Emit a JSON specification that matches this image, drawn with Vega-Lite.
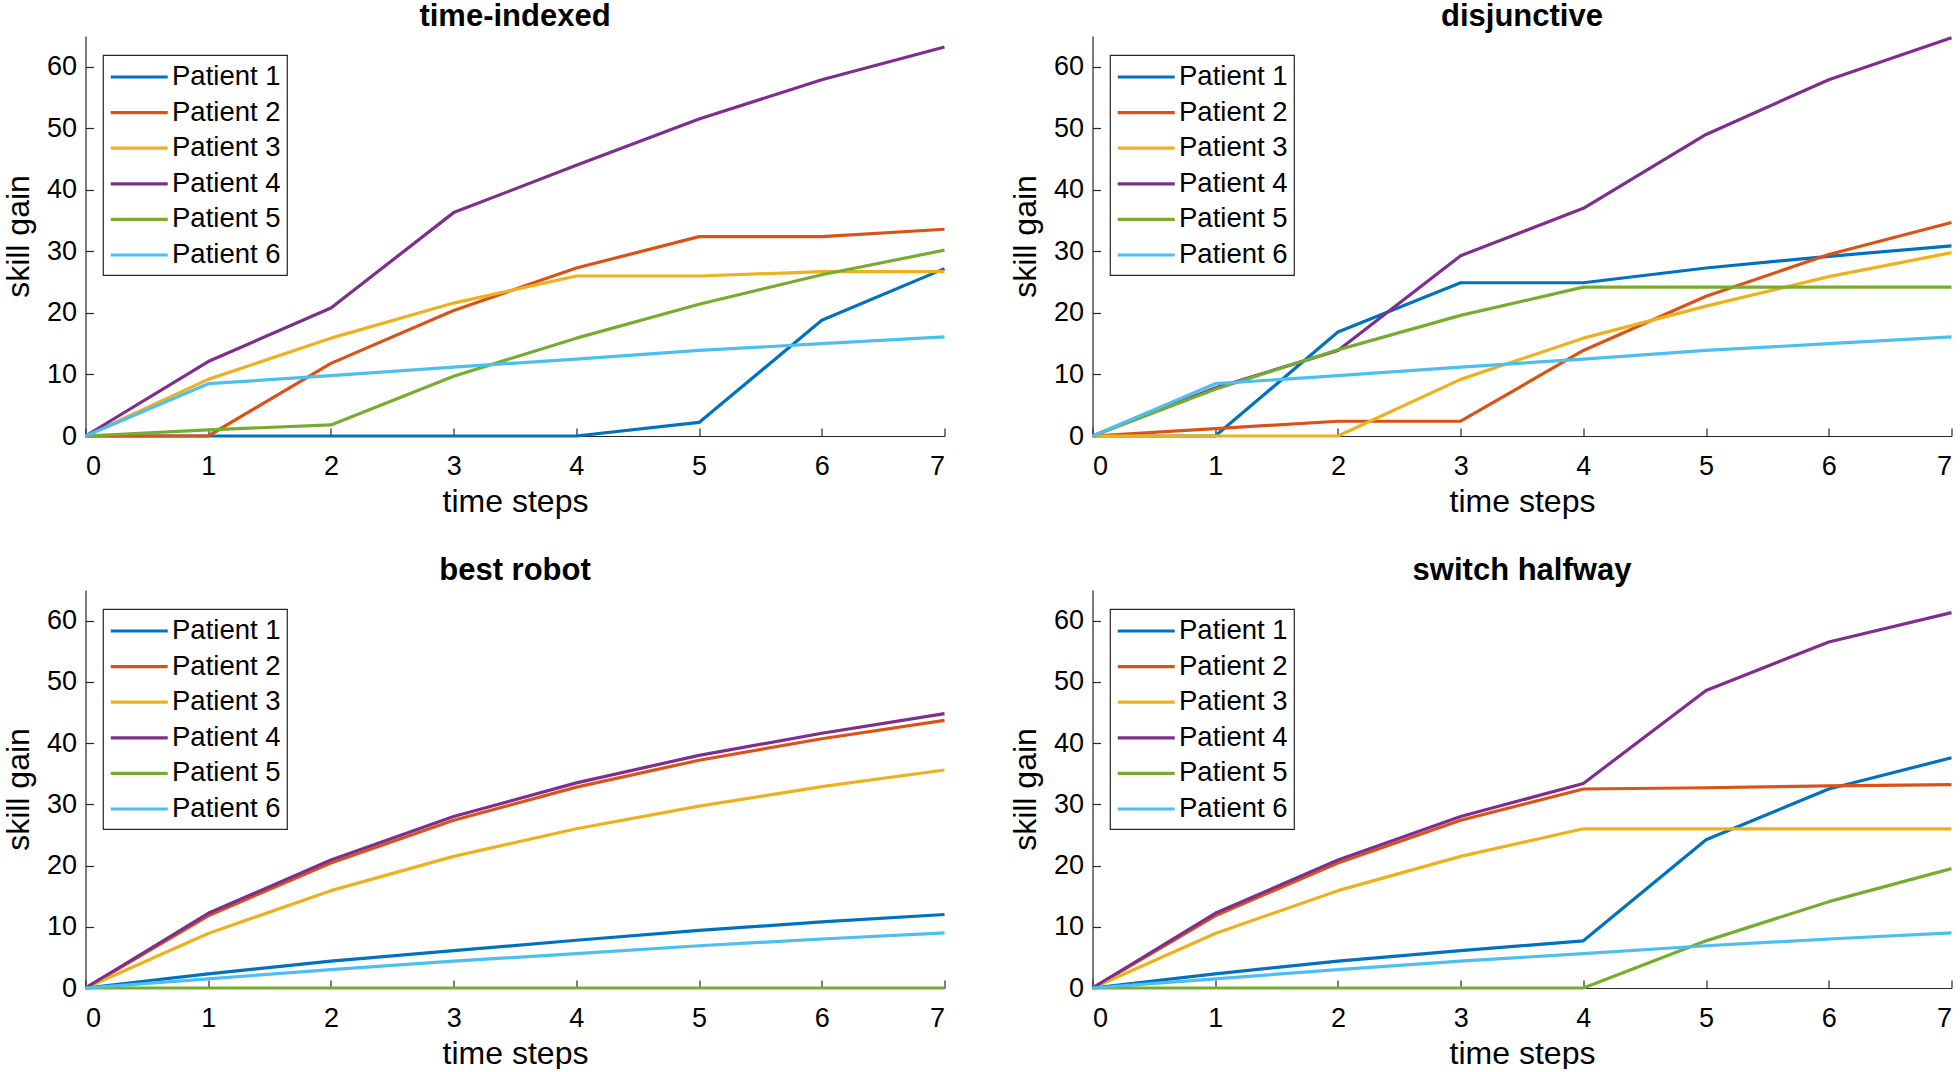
{
  "$schema": "https://vega.github.io/schema/vega-lite/v6.json",
  "background": "white",
  "padding": {"left": 2.5, "top": 0, "right": 0, "bottom": 0},
  "autosize": {"type": "pad"},
  "bounds": "flush",
  "columns": 2,
  "spacing": {"row": 154, "column": 148},
  "datasets": {
    "ti": [
      {"p": "Patient 1", "t": 0, "v": 0}, {"p": "Patient 1", "t": 1, "v": 0}, {"p": "Patient 1", "t": 2, "v": 0}, {"p": "Patient 1", "t": 3, "v": 0}, {"p": "Patient 1", "t": 4, "v": 0}, {"p": "Patient 1", "t": 5, "v": 2.2}, {"p": "Patient 1", "t": 6, "v": 18.8}, {"p": "Patient 1", "t": 7, "v": 27.2},
      {"p": "Patient 2", "t": 0, "v": 0}, {"p": "Patient 2", "t": 1, "v": 0}, {"p": "Patient 2", "t": 2, "v": 11.8}, {"p": "Patient 2", "t": 3, "v": 20.4}, {"p": "Patient 2", "t": 4, "v": 27.3}, {"p": "Patient 2", "t": 5, "v": 32.4}, {"p": "Patient 2", "t": 6, "v": 32.4}, {"p": "Patient 2", "t": 7, "v": 33.6},
      {"p": "Patient 3", "t": 0, "v": 0}, {"p": "Patient 3", "t": 1, "v": 9.2}, {"p": "Patient 3", "t": 2, "v": 15.9}, {"p": "Patient 3", "t": 3, "v": 21.6}, {"p": "Patient 3", "t": 4, "v": 26.0}, {"p": "Patient 3", "t": 5, "v": 26.0}, {"p": "Patient 3", "t": 6, "v": 26.7}, {"p": "Patient 3", "t": 7, "v": 26.7},
      {"p": "Patient 4", "t": 0, "v": 0}, {"p": "Patient 4", "t": 1, "v": 12.1}, {"p": "Patient 4", "t": 2, "v": 20.8}, {"p": "Patient 4", "t": 3, "v": 36.3}, {"p": "Patient 4", "t": 4, "v": 44.0}, {"p": "Patient 4", "t": 5, "v": 51.5}, {"p": "Patient 4", "t": 6, "v": 57.9}, {"p": "Patient 4", "t": 7, "v": 63.2},
      {"p": "Patient 5", "t": 0, "v": 0}, {"p": "Patient 5", "t": 1, "v": 1.0}, {"p": "Patient 5", "t": 2, "v": 1.8}, {"p": "Patient 5", "t": 3, "v": 9.7}, {"p": "Patient 5", "t": 4, "v": 15.9}, {"p": "Patient 5", "t": 5, "v": 21.4}, {"p": "Patient 5", "t": 6, "v": 26.2}, {"p": "Patient 5", "t": 7, "v": 30.2},
      {"p": "Patient 6", "t": 0, "v": 0}, {"p": "Patient 6", "t": 1, "v": 8.5}, {"p": "Patient 6", "t": 2, "v": 9.8}, {"p": "Patient 6", "t": 3, "v": 11.2}, {"p": "Patient 6", "t": 4, "v": 12.5}, {"p": "Patient 6", "t": 5, "v": 13.9}, {"p": "Patient 6", "t": 6, "v": 15.0}, {"p": "Patient 6", "t": 7, "v": 16.1}
    ],
    "dj": [
      {"p": "Patient 1", "t": 0, "v": 0}, {"p": "Patient 1", "t": 1, "v": 0}, {"p": "Patient 1", "t": 2, "v": 16.9}, {"p": "Patient 1", "t": 3, "v": 24.9}, {"p": "Patient 1", "t": 4, "v": 24.9}, {"p": "Patient 1", "t": 5, "v": 27.3}, {"p": "Patient 1", "t": 6, "v": 29.2}, {"p": "Patient 1", "t": 7, "v": 30.9},
      {"p": "Patient 2", "t": 0, "v": 0}, {"p": "Patient 2", "t": 1, "v": 1.2}, {"p": "Patient 2", "t": 2, "v": 2.4}, {"p": "Patient 2", "t": 3, "v": 2.4}, {"p": "Patient 2", "t": 4, "v": 13.9}, {"p": "Patient 2", "t": 5, "v": 22.7}, {"p": "Patient 2", "t": 6, "v": 29.5}, {"p": "Patient 2", "t": 7, "v": 34.7},
      {"p": "Patient 3", "t": 0, "v": 0}, {"p": "Patient 3", "t": 1, "v": 0}, {"p": "Patient 3", "t": 2, "v": 0}, {"p": "Patient 3", "t": 3, "v": 9.2}, {"p": "Patient 3", "t": 4, "v": 15.9}, {"p": "Patient 3", "t": 5, "v": 21.1}, {"p": "Patient 3", "t": 6, "v": 25.9}, {"p": "Patient 3", "t": 7, "v": 29.8},
      {"p": "Patient 4", "t": 0, "v": 0}, {"p": "Patient 4", "t": 1, "v": 7.8}, {"p": "Patient 4", "t": 2, "v": 13.9}, {"p": "Patient 4", "t": 3, "v": 29.3}, {"p": "Patient 4", "t": 4, "v": 37.0}, {"p": "Patient 4", "t": 5, "v": 49.0}, {"p": "Patient 4", "t": 6, "v": 57.9}, {"p": "Patient 4", "t": 7, "v": 64.7},
      {"p": "Patient 5", "t": 0, "v": 0}, {"p": "Patient 5", "t": 1, "v": 7.6}, {"p": "Patient 5", "t": 2, "v": 14.0}, {"p": "Patient 5", "t": 3, "v": 19.6}, {"p": "Patient 5", "t": 4, "v": 24.2}, {"p": "Patient 5", "t": 5, "v": 24.2}, {"p": "Patient 5", "t": 6, "v": 24.2}, {"p": "Patient 5", "t": 7, "v": 24.2},
      {"p": "Patient 6", "t": 0, "v": 0}, {"p": "Patient 6", "t": 1, "v": 8.5}, {"p": "Patient 6", "t": 2, "v": 9.8}, {"p": "Patient 6", "t": 3, "v": 11.2}, {"p": "Patient 6", "t": 4, "v": 12.5}, {"p": "Patient 6", "t": 5, "v": 13.9}, {"p": "Patient 6", "t": 6, "v": 15.0}, {"p": "Patient 6", "t": 7, "v": 16.1}
    ],
    "br": [
      {"p": "Patient 1", "t": 0, "v": 0}, {"p": "Patient 1", "t": 1, "v": 2.3}, {"p": "Patient 1", "t": 2, "v": 4.4}, {"p": "Patient 1", "t": 3, "v": 6.1}, {"p": "Patient 1", "t": 4, "v": 7.8}, {"p": "Patient 1", "t": 5, "v": 9.4}, {"p": "Patient 1", "t": 6, "v": 10.8}, {"p": "Patient 1", "t": 7, "v": 12.0},
      {"p": "Patient 2", "t": 0, "v": 0}, {"p": "Patient 2", "t": 1, "v": 11.8}, {"p": "Patient 2", "t": 2, "v": 20.4}, {"p": "Patient 2", "t": 3, "v": 27.4}, {"p": "Patient 2", "t": 4, "v": 32.8}, {"p": "Patient 2", "t": 5, "v": 37.2}, {"p": "Patient 2", "t": 6, "v": 40.7}, {"p": "Patient 2", "t": 7, "v": 43.7},
      {"p": "Patient 3", "t": 0, "v": 0}, {"p": "Patient 3", "t": 1, "v": 8.9}, {"p": "Patient 3", "t": 2, "v": 15.9}, {"p": "Patient 3", "t": 3, "v": 21.5}, {"p": "Patient 3", "t": 4, "v": 26.0}, {"p": "Patient 3", "t": 5, "v": 29.7}, {"p": "Patient 3", "t": 6, "v": 32.9}, {"p": "Patient 3", "t": 7, "v": 35.6},
      {"p": "Patient 4", "t": 0, "v": 0}, {"p": "Patient 4", "t": 1, "v": 12.2}, {"p": "Patient 4", "t": 2, "v": 20.9}, {"p": "Patient 4", "t": 3, "v": 28.0}, {"p": "Patient 4", "t": 4, "v": 33.5}, {"p": "Patient 4", "t": 5, "v": 38.0}, {"p": "Patient 4", "t": 6, "v": 41.6}, {"p": "Patient 4", "t": 7, "v": 44.8},
      {"p": "Patient 5", "t": 0, "v": 0}, {"p": "Patient 5", "t": 1, "v": 0}, {"p": "Patient 5", "t": 2, "v": 0}, {"p": "Patient 5", "t": 3, "v": 0}, {"p": "Patient 5", "t": 4, "v": 0}, {"p": "Patient 5", "t": 5, "v": 0}, {"p": "Patient 5", "t": 6, "v": 0}, {"p": "Patient 5", "t": 7, "v": 0},
      {"p": "Patient 6", "t": 0, "v": 0}, {"p": "Patient 6", "t": 1, "v": 1.5}, {"p": "Patient 6", "t": 2, "v": 3.0}, {"p": "Patient 6", "t": 3, "v": 4.4}, {"p": "Patient 6", "t": 4, "v": 5.6}, {"p": "Patient 6", "t": 5, "v": 6.9}, {"p": "Patient 6", "t": 6, "v": 8.0}, {"p": "Patient 6", "t": 7, "v": 9.0}
    ],
    "sh": [
      {"p": "Patient 1", "t": 0, "v": 0}, {"p": "Patient 1", "t": 1, "v": 2.3}, {"p": "Patient 1", "t": 2, "v": 4.4}, {"p": "Patient 1", "t": 3, "v": 6.1}, {"p": "Patient 1", "t": 4, "v": 7.7}, {"p": "Patient 1", "t": 5, "v": 24.2}, {"p": "Patient 1", "t": 6, "v": 32.5}, {"p": "Patient 1", "t": 7, "v": 37.6},
      {"p": "Patient 2", "t": 0, "v": 0}, {"p": "Patient 2", "t": 1, "v": 11.8}, {"p": "Patient 2", "t": 2, "v": 20.4}, {"p": "Patient 2", "t": 3, "v": 27.4}, {"p": "Patient 2", "t": 4, "v": 32.5}, {"p": "Patient 2", "t": 5, "v": 32.7}, {"p": "Patient 2", "t": 6, "v": 33.0}, {"p": "Patient 2", "t": 7, "v": 33.2},
      {"p": "Patient 3", "t": 0, "v": 0}, {"p": "Patient 3", "t": 1, "v": 8.9}, {"p": "Patient 3", "t": 2, "v": 15.9}, {"p": "Patient 3", "t": 3, "v": 21.5}, {"p": "Patient 3", "t": 4, "v": 26.0}, {"p": "Patient 3", "t": 5, "v": 26.0}, {"p": "Patient 3", "t": 6, "v": 26.0}, {"p": "Patient 3", "t": 7, "v": 26.0},
      {"p": "Patient 4", "t": 0, "v": 0}, {"p": "Patient 4", "t": 1, "v": 12.2}, {"p": "Patient 4", "t": 2, "v": 20.9}, {"p": "Patient 4", "t": 3, "v": 28.0}, {"p": "Patient 4", "t": 4, "v": 33.4}, {"p": "Patient 4", "t": 5, "v": 48.6}, {"p": "Patient 4", "t": 6, "v": 56.5}, {"p": "Patient 4", "t": 7, "v": 61.3},
      {"p": "Patient 5", "t": 0, "v": 0}, {"p": "Patient 5", "t": 1, "v": 0}, {"p": "Patient 5", "t": 2, "v": 0}, {"p": "Patient 5", "t": 3, "v": 0}, {"p": "Patient 5", "t": 4, "v": 0}, {"p": "Patient 5", "t": 5, "v": 7.7}, {"p": "Patient 5", "t": 6, "v": 14.1}, {"p": "Patient 5", "t": 7, "v": 19.5},
      {"p": "Patient 6", "t": 0, "v": 0}, {"p": "Patient 6", "t": 1, "v": 1.5}, {"p": "Patient 6", "t": 2, "v": 3.0}, {"p": "Patient 6", "t": 3, "v": 4.4}, {"p": "Patient 6", "t": 4, "v": 5.6}, {"p": "Patient 6", "t": 5, "v": 6.9}, {"p": "Patient 6", "t": 6, "v": 8.0}, {"p": "Patient 6", "t": 7, "v": 9.0}
    ]
  },
  "concat": [
    {
      "title": "time-indexed",
      "width": 859, "height": 400,
      "data": {"name": "ti"},
      "mark": {"type": "line", "strokeWidth": 3.2, "strokeJoin": "round"},
      "encoding": {
        "x": {"field": "t", "type": "quantitative", "scale": {"domain": [0, 7], "nice": false, "zero": false}, "axis": {"title": "time steps", "values": [0, 1, 2, 3, 4, 5, 6, 7]}},
        "y": {"field": "v", "type": "quantitative", "scale": {"domain": [0, 65], "nice": false}, "axis": {"title": "skill gain", "values": [0, 10, 20, 30, 40, 50, 60]}},
        "color": {"field": "p", "type": "nominal", "scale": {"domain": ["Patient 1", "Patient 2", "Patient 3", "Patient 4", "Patient 5", "Patient 6"], "range": ["#0072BD", "#D95319", "#EDB120", "#7E2F8E", "#77AC30", "#4DBEEE"]}, "legend": {"title": null, "labelExpr": "datum.label + ' '"}}
      }
    },
    {
      "title": "disjunctive",
      "width": 859, "height": 400,
      "data": {"name": "dj"},
      "mark": {"type": "line", "strokeWidth": 3.2, "strokeJoin": "round"},
      "encoding": {
        "x": {"field": "t", "type": "quantitative", "scale": {"domain": [0, 7], "nice": false, "zero": false}, "axis": {"title": "time steps", "values": [0, 1, 2, 3, 4, 5, 6, 7]}},
        "y": {"field": "v", "type": "quantitative", "scale": {"domain": [0, 65], "nice": false}, "axis": {"title": "skill gain", "values": [0, 10, 20, 30, 40, 50, 60]}},
        "color": {"field": "p", "type": "nominal", "scale": {"domain": ["Patient 1", "Patient 2", "Patient 3", "Patient 4", "Patient 5", "Patient 6"], "range": ["#0072BD", "#D95319", "#EDB120", "#7E2F8E", "#77AC30", "#4DBEEE"]}, "legend": {"title": null, "labelExpr": "datum.label + ' '"}}
      }
    },
    {
      "title": "best robot",
      "width": 859, "height": 398,
      "data": {"name": "br"},
      "mark": {"type": "line", "strokeWidth": 3.2, "strokeJoin": "round"},
      "encoding": {
        "x": {"field": "t", "type": "quantitative", "scale": {"domain": [0, 7], "nice": false, "zero": false}, "axis": {"title": "time steps", "values": [0, 1, 2, 3, 4, 5, 6, 7]}},
        "y": {"field": "v", "type": "quantitative", "scale": {"domain": [0, 65], "nice": false}, "axis": {"title": "skill gain", "values": [0, 10, 20, 30, 40, 50, 60]}},
        "color": {"field": "p", "type": "nominal", "scale": {"domain": ["Patient 1", "Patient 2", "Patient 3", "Patient 4", "Patient 5", "Patient 6"], "range": ["#0072BD", "#D95319", "#EDB120", "#7E2F8E", "#77AC30", "#4DBEEE"]}, "legend": {"title": null, "labelExpr": "datum.label + ' '"}}
      }
    },
    {
      "title": "switch halfway",
      "width": 859, "height": 398,
      "data": {"name": "sh"},
      "mark": {"type": "line", "strokeWidth": 3.2, "strokeJoin": "round"},
      "encoding": {
        "x": {"field": "t", "type": "quantitative", "scale": {"domain": [0, 7], "nice": false, "zero": false}, "axis": {"title": "time steps", "values": [0, 1, 2, 3, 4, 5, 6, 7]}},
        "y": {"field": "v", "type": "quantitative", "scale": {"domain": [0, 65], "nice": false}, "axis": {"title": "skill gain", "values": [0, 10, 20, 30, 40, 50, 60]}},
        "color": {"field": "p", "type": "nominal", "scale": {"domain": ["Patient 1", "Patient 2", "Patient 3", "Patient 4", "Patient 5", "Patient 6"], "range": ["#0072BD", "#D95319", "#EDB120", "#7E2F8E", "#77AC30", "#4DBEEE"]}, "legend": {"title": null, "labelExpr": "datum.label + ' '"}}
      }
    }
  ],
  "resolve": {"scale": {"color": "independent"}, "legend": {"color": "independent"}},
  "config": {
    "view": {"stroke": null},
    "font": "Liberation Sans",
    "title": {"font": "Liberation Sans", "fontSize": 31, "fontWeight": "bold", "color": "#000000", "anchor": "middle", "frame": "group", "baseline": "alphabetic", "offset": 3.5},
    "axis": {"grid": false, "domainColor": "#262626", "domainWidth": 1.2, "tickColor": "#262626", "tickWidth": 1.2, "tickSize": -8, "labelFont": "Liberation Sans", "labelFontSize": 27, "labelColor": "#000000", "titleFont": "Liberation Sans", "titleFontSize": 32, "titleFontWeight": "normal", "titleColor": "#000000"},
    "axisX": {"labelPadding": 25, "titleY": 75, "titleBaseline": "alphabetic"},
    "axisY": {"labelPadding": 17, "titleX": -57, "titleBaseline": "alphabetic"},
    "legend": {"orient": "none", "legendX": 17.5, "legendY": 19, "strokeColor": "#262626", "strokeWidth": 1.2, "fillColor": "#ffffff", "padding": 6, "cornerRadius": 0, "labelFont": "Liberation Sans", "labelFontSize": 27.5, "labelColor": "#000000", "symbolType": "M-1,0H3", "symbolSize": 812, "symbolStrokeWidth": 3.2, "rowPadding": 5.6, "labelOffset": 31}
  }
}
